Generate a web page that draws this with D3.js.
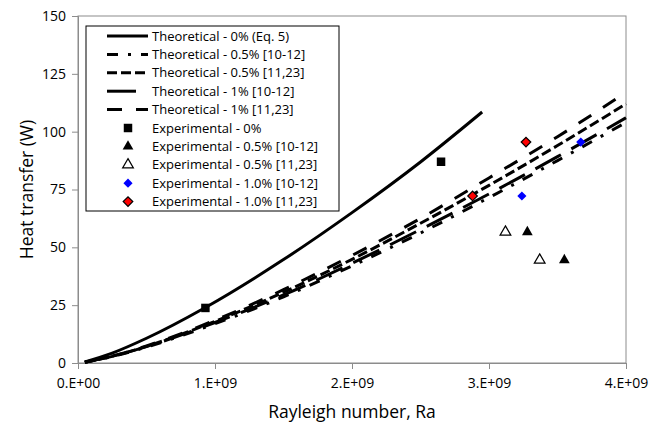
<!DOCTYPE html>
<html>
<head>
<meta charset="utf-8">
<script src="https://cdn.jsdelivr.net/npm/d3@7"></script>
<style>
  body { margin: 0; background: #fff; }
  svg { display: block; font-family: "Open Sans", Lato, sans-serif; }
</style>
</head>
<body>
<svg id="chart" width="652" height="426"></svg>
<script>
// Rayleigh number in units of 1E9, heat transfer in W
const raTheory = [0.05, 0.25, 0.5, 1.0, 1.5, 2.0, 2.5, 3.0, 3.5, 4.0];
const raTheory0 = [0.05, 0.25, 0.5, 0.93, 1.5, 2.0, 2.5, 2.95];

const qTheory0 = [0.5, 4.3, 10.7, 24, 44.7, 65, 86.9, 108.5];
const qTheory05a = [0.35, 2.8, 6.9, 17, 28.6, 42, 56.2, 71.5, 87.5, 104];
const qTheory05b = [0.35, 2.9, 7.2, 18, 30.6, 44.8, 60.4, 76.8, 94, 112];
const qTheory1a = [0.35, 2.86, 7.1, 17.5, 29.4, 43.1, 57.7, 73.1, 89.2, 106];
const qTheory1b = [0.35, 3.0, 7.4, 18.5, 31.7, 46.5, 62.5, 80, 97.8, 117];

const raExp0 = [0.93, 2.65];
const qExp0 = [23.8, 87];
const raExp05a = [3.28, 3.55];
const qExp05a = [56.6, 44.5];
const raExp05b = [3.12, 3.37];
const qExp05b = [56.6, 44.5];
const raExp1a = [3.24, 3.67];
const qExp1a = [72.2, 95.5];
const raExp1b = [2.88, 3.27];
const qExp1b = [72.2, 95.5];

const xTicks = [0, 1, 2, 3, 4];
const xTickLabels = ["0.E+00", "1.E+09", "2.E+09", "3.E+09", "4.E+09"];
const yTicks = [0, 25, 50, 75, 100, 125, 150];

const lineSeries = [
  { name: "Theoretical - 0% (Eq. 5)", ra: raTheory0, q: qTheory0, dash: null },
  { name: "Theoretical - 0.5% [10-12]", ra: raTheory, q: qTheory05a, dash: "11,10,3,10" },
  { name: "Theoretical - 0.5% [11,23]", ra: raTheory, q: qTheory05b, dash: "10,4" },
  { name: "Theoretical - 1% [10-12]", ra: raTheory, q: qTheory1a, dash: "29,12" },
  { name: "Theoretical - 1% [11,23]", ra: raTheory, q: qTheory1b, dash: "15,14" }
];

// diamonds are squares turned by 45 degrees
const pointSeries = [
  { name: "Experimental - 0%", ra: raExp0, q: qExp0, shape: d3.symbolSquare, rot: 0, fill: "#000", stroke: "none", size: 72 },
  { name: "Experimental - 0.5% [10-12]", ra: raExp05a, q: qExp05a, shape: d3.symbolTriangle, rot: 0, fill: "#000", stroke: "none", size: 50 },
  { name: "Experimental - 0.5% [11,23]", ra: raExp05b, q: qExp05b, shape: d3.symbolTriangle, rot: 0, fill: "#fff", stroke: "#000", size: 50 },
  { name: "Experimental - 1.0% [10-12]", ra: raExp1a, q: qExp1a, shape: d3.symbolSquare, rot: 45, fill: "#0000ff", stroke: "none", size: 42 },
  { name: "Experimental - 1.0% [11,23]", ra: raExp1b, q: qExp1b, shape: d3.symbolSquare, rot: 45, fill: "#ff0000", stroke: "#000", size: 46 }
];

const svg = d3.select("#chart");
const margin = { top: 16, right: 26, bottom: 63, left: 78 };
const width = 652 - margin.left - margin.right;
const height = 426 - margin.top - margin.bottom;

const x = d3.scaleLinear().domain([0, 4]).range([0, width]);
const y = d3.scaleLinear().domain([0, 150]).range([height, 0]);

const g = svg.append("g").attr("transform", `translate(${margin.left},${margin.top})`);

// plot area border
g.append("rect")
  .attr("x", 0).attr("y", 0)
  .attr("width", width).attr("height", height)
  .attr("fill", "none").attr("stroke", "#8c8c8c").attr("stroke-width", 1);

// axes
const xAxis = g.append("g")
  .attr("transform", `translate(0,${height})`)
  .call(d3.axisBottom(x).tickValues(xTicks).tickFormat((d, i) => xTickLabels[i]).tickSizeOuter(0).tickSize(6).tickPadding(9));
const yAxis = g.append("g")
  .call(d3.axisLeft(y).tickValues(yTicks).tickSizeOuter(0).tickSize(6).tickPadding(6));

[xAxis, yAxis].forEach(a => {
  a.select(".domain").attr("stroke", "#8c8c8c");
  a.selectAll(".tick line").attr("stroke", "#8c8c8c");
  a.selectAll(".tick text").attr("fill", "#000").style("font-size", "14px").style("font-family", "'Open Sans', sans-serif");
});

// theoretical curves
const line = d3.line()
  .x(d => x(d[0]))
  .y(d => y(d[1]))
  .curve(d3.curveMonotoneX);

lineSeries.forEach(s => {
  g.append("path")
    .datum(s.ra.map((r, i) => [r, s.q[i]]))
    .attr("fill", "none")
    .attr("stroke", "#000")
    .attr("stroke-width", 3)
    .attr("stroke-dasharray", s.dash)
    .attr("d", line);
});

// experimental points
pointSeries.forEach(s => {
  g.selectAll(null)
    .data(s.ra.map((r, i) => [r, s.q[i]]))
    .enter()
    .append("path")
    .attr("transform", d => `translate(${x(d[0])},${y(d[1])}) rotate(${s.rot})`)
    .attr("d", d3.symbol().type(s.shape).size(s.size))
    .attr("fill", s.fill)
    .attr("stroke", s.stroke)
    .attr("stroke-width", 1.2);
});

// axis titles
svg.append("text")
  .attr("x", margin.left + width / 2)
  .attr("y", 418)
  .attr("text-anchor", "middle")
  .style("font-size", "17.5px")
  .text("Rayleigh number, Ra");

svg.append("text")
  .attr("transform", `translate(33,${margin.top + height / 2}) rotate(-90)`)
  .attr("text-anchor", "middle")
  .style("font-size", "17.5px")
  .text("Heat transfer (W)");

// legend
const legend = svg.append("g").attr("transform", "translate(86,26)");
legend.append("rect")
  .attr("width", 253).attr("height", 185)
  .attr("fill", "#fff").attr("stroke", "#000").attr("stroke-width", 1);

const rowH = 18.4;
lineSeries.forEach((s, i) => {
  const yy = 10 + i * rowH;
  legend.append("line")
    .attr("x1", 21).attr("x2", 62)
    .attr("y1", yy).attr("y2", yy)
    .attr("stroke", "#000").attr("stroke-width", 3)
    .attr("stroke-dasharray", s.dash);
  legend.append("text")
    .attr("x", 66).attr("y", yy).attr("dy", "0.35em")
    .style("font-size", "13px")
    .text(s.name);
});
pointSeries.forEach((s, i) => {
  const yy = 10 + (i + 5) * rowH;
  legend.append("path")
    .attr("transform", `translate(42,${yy}) rotate(${s.rot})`)
    .attr("d", d3.symbol().type(s.shape).size(s.size))
    .attr("fill", s.fill).attr("stroke", s.stroke).attr("stroke-width", 1.2);
  legend.append("text")
    .attr("x", 66).attr("y", yy).attr("dy", "0.35em")
    .style("font-size", "13px")
    .text(s.name);
});
</script>
</body>
</html>
